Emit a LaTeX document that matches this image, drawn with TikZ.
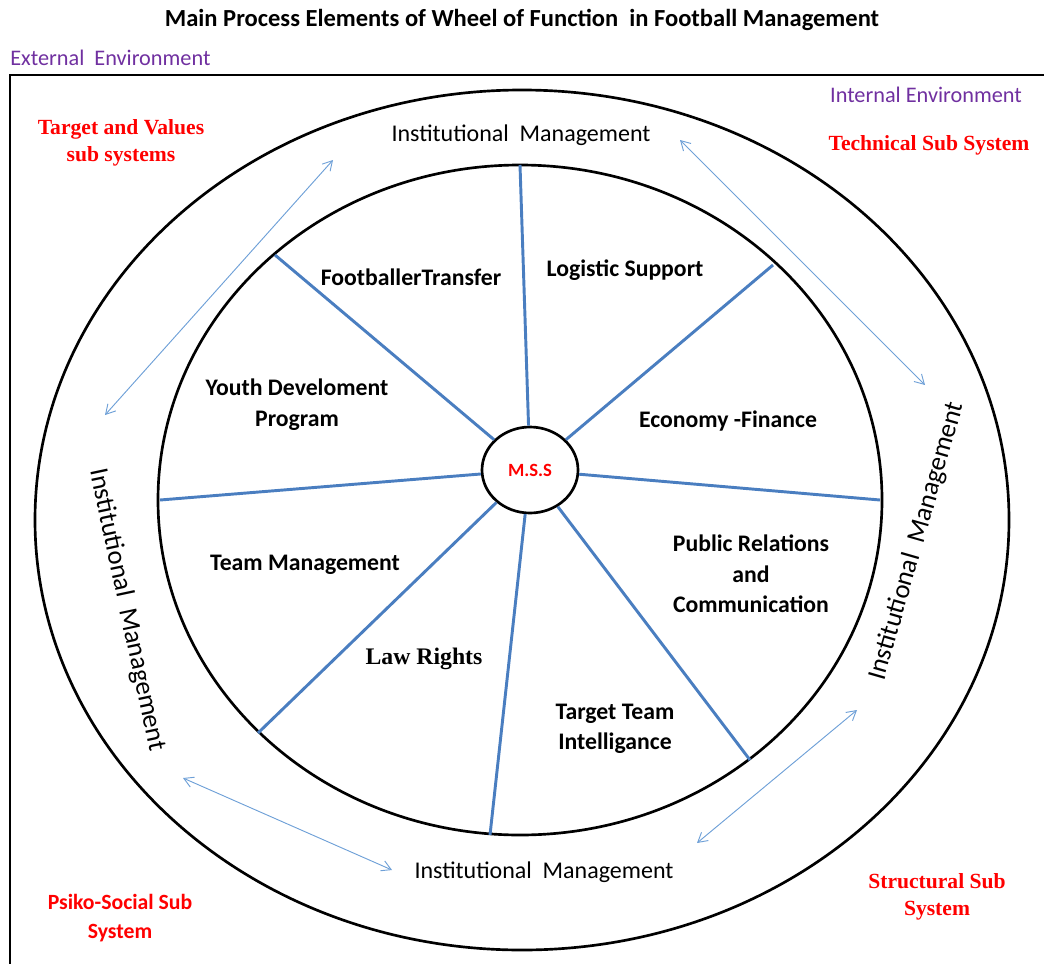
\documentclass[tikz,border=0pt]{standalone}
\usepackage{fontspec}
\setmainfont{Carlito}
\newfontfamily\timesfont{Liberation Serif}
\usetikzlibrary{positioning}
\usetikzlibrary{shapes.geometric}
\usetikzlibrary{arrows.meta}

\definecolor{spokeblue}{RGB}{74,126,192}
\definecolor{arrowblue}{RGB}{110,160,215}
\definecolor{envpurple}{RGB}{112,48,160}
\definecolor{subred}{RGB}{255,0,0}

\begin{document}
\begin{tikzpicture}
	[x=0.75pt, y=-0.75pt,
	ringlabel/.style={font=\fontsize{18}{20}\selectfont, inner sep=0pt},
	sideringlabel/.style={font=\fontsize{20}{22}\selectfont, inner sep=0pt},
	sectorlabel/.style={font=\fontsize{17.8}{23}\selectfont\bfseries, align=center, inner sep=0pt},
	envlabel/.style={font=\fontsize{16.7}{19}\selectfont, text=envpurple, inner sep=0pt},
	sublabel/.style={font=\fontsize{16.2}{20.3}\selectfont\timesfont\bfseries, text=subred, align=center, inner sep=0pt},
	spoke/.style={draw=spokeblue, line width=2.2pt},
	linkarrow/.style={draw=arrowblue, line width=0.7pt, {Straight Barb[length=7pt,width=8pt]}-{Straight Barb[length=7pt,width=8pt]}}
	]
	
	\useasboundingbox (0,0) rectangle (1044,963);
	
	%Frame and rings
	\draw[line width=2pt] (1050,75) -- (10,75) -- (10,970);
	\draw[line width=2pt] (522,520) ellipse [x radius=365.25pt, y radius=322.5pt];
	\draw[line width=2pt] (520,500) ellipse [x radius=271.5pt, y radius=251.25pt];
	
	%Title and environments
	\node(Title)[font=\fontsize{18.4}{21}\selectfont\bfseries, inner sep=0pt] at (522,20) {Main Process Elements of Wheel of Function \ in Football Management};
	\node(ExtEnv)[envlabel, anchor=west] at (10,58) {External \ Environment};
	\node(IntEnv)[envlabel] at (926,95) {Internal Environment};
	
	%Sub systems
	\node(TargetSub)[sublabel] at (121,143) {Target and Values\\sub systems};
	\node(TechSub)[sublabel] at (929,145) {Technical Sub System};
	\node(PsikoSub)[sublabel, font=\fontsize{16.3}{21.75}\selectfont\bfseries] at (120,918) {Psiko-Social Sub\\System};
	\node(StructSub)[sublabel, font=\fontsize{16.2}{20.25}\selectfont\timesfont\bfseries] at (937,897) {Structural Sub\\System};
	
	%Institutional management ring
	\node(InstTop)[ringlabel] at (521,135) {Institutional \ Management};
	\node(InstBottom)[ringlabel] at (544,872) {Institutional \ Management};
	\node(InstLeft)[sideringlabel, rotate=-78] at (127,610) {Institutional \ Management};
	\node(InstRight)[sideringlabel, rotate=74] at (917,541) {Institutional \ Management};
	
	%Links between sub systems
	\coordinate(LinkA1) at (105,415); \coordinate(LinkA2) at (333,160);
	\coordinate(LinkB1) at (680,140); \coordinate(LinkB2) at (925,385);
	\coordinate(LinkC1) at (183,778); \coordinate(LinkC2) at (392,870);
	\coordinate(LinkD1) at (697,843); \coordinate(LinkD2) at (857,710);
	\draw[linkarrow] (LinkA1) -- (LinkA2);
	\draw[linkarrow] (LinkB1) -- (LinkB2);
	\draw[linkarrow] (LinkC1) -- (LinkC2);
	\draw[linkarrow] (LinkD1) -- (LinkD2);
	
	%Wheel
	\node(MSS)[ellipse, draw, line width=2pt, fill=white, minimum width=72pt, minimum height=64.5pt, inner sep=0pt,
		font=\fontsize{14}{16}\selectfont\bfseries, text=subred] at (530,470) {M.S.S};
	\coordinate(RimN) at (520,165);
	\coordinate(RimNE) at (773,265);
	\coordinate(RimE) at (880,500);
	\coordinate(RimSE) at (750,760);
	\coordinate(RimS) at (490,835);
	\coordinate(RimSW) at (258,733);
	\coordinate(RimW) at (160,500);
	\coordinate(RimNW) at (275,255);
	\foreach \rim in {RimN,RimNE,RimE,RimSE,RimS,RimSW,RimW,RimNW}
		\draw[spoke] (MSS) -- (\rim);
	
	%Sectors
	\node(Transfer)[sectorlabel] at (411,277) {FootballerTransfer};
	\node(Logistic)[sectorlabel] at (625,270) {Logistic Support};
	\node(Youth)[sectorlabel] at (297,405) {Youth Develoment\\Program};
	\node(Economy)[sectorlabel] at (728,421) {Economy -Finance};
	\node(TeamMgmt)[sectorlabel] at (305,565) {Team Management};
	\node(PublicRel)[sectorlabel] at (751,574) {Public Relations\\and\\Communication};
	\node(Law)[sectorlabel, font=\fontsize{17.8}{20}\selectfont\timesfont\bfseries] at (424,659) {Law Rights};
	\node(Intel)[sectorlabel, font=\fontsize{17.8}{22.5}\selectfont\bfseries] at (615,729) {Target Team\\Intelligance};
	
\end{tikzpicture}
\end{document}
